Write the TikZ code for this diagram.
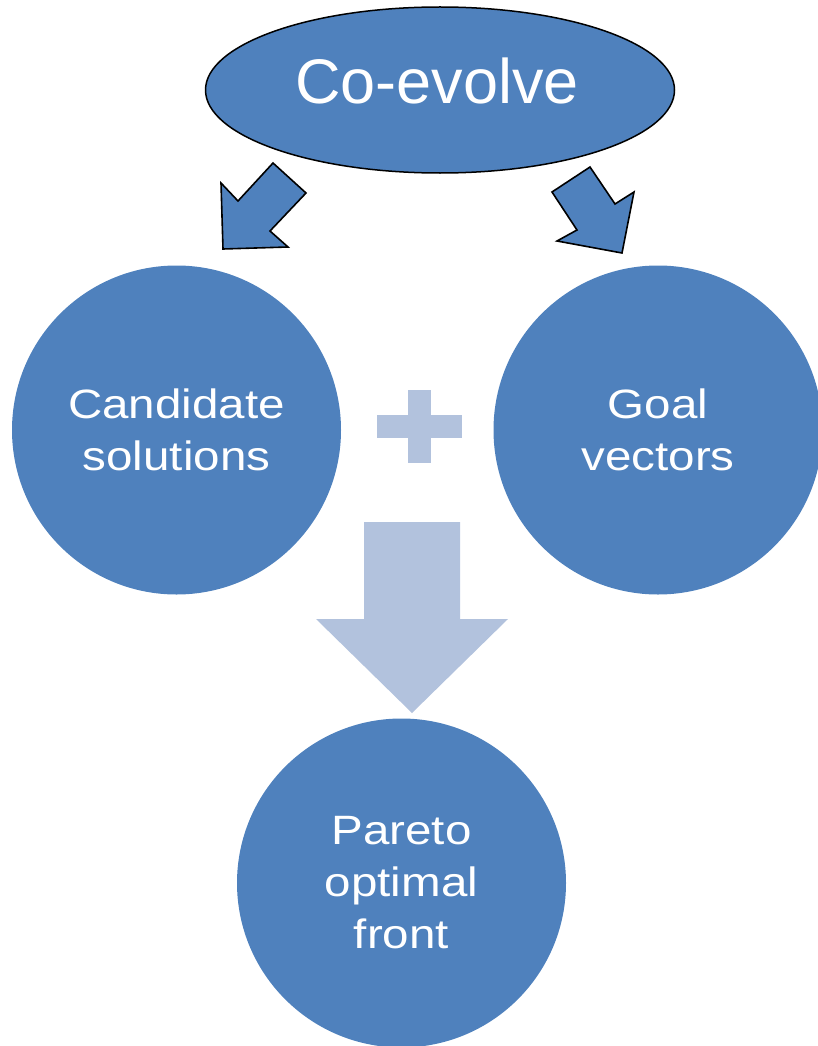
\documentclass[tikz,border=0pt]{standalone}
\usepackage{fontspec}
\usetikzlibrary{shapes.geometric}
\setmainfont{Liberation Sans}
\newfontfamily\bodyfont[FakeStretch=1.16]{Liberation Sans}
\definecolor{blockblue}{HTML}{4F81BD}
\definecolor{paleblue}{HTML}{B2C2DD}
\begin{document}
\begin{tikzpicture}[x=1pt,y=-1pt,
  bubble/.style={circle, fill=blockblue, minimum size=329pt, inner sep=0pt,
    text=white, align=center, font=\bodyfont\fontsize{41}{52}\selectfont},
  blockarrow/.style={fill=blockblue, draw=black, line width=1.6pt, line join=miter},
  palefill/.style={fill=paleblue}]
\useasboundingbox (0,0) rectangle (817,1046);

% top ellipse with its caption
\node[ellipse, fill=blockblue, draw=black, line width=1.5pt,
  minimum width=469pt, minimum height=166pt, inner sep=0pt] (coevolve) at (440,90) {};
\node[anchor=base, text=white, font=\fontsize{63}{70}\selectfont, inner sep=0pt]
  (coevolvetext) at (437,104) {Co-evolve};

% two block arrows leaving the ellipse
\draw[blockarrow] (223,249) -- (221,183) -- (238,201) -- (273,163) -- (306,193)
  -- (270,231) -- (288,247) -- cycle;
\draw[blockarrow] (552,192) -- (590,167) -- (615,204) -- (634,192) -- (622,253)
  -- (557,241) -- (577,230) -- cycle;

% circles
\node[bubble] (cand) at (176.5,430) {Candidate\\solutions};
\node[bubble] (goal) at (658,430) {Goal\\vectors};
\node[bubble] (pareto) at (401.5,883) {Pareto\\optimal\\front};

% plus sign
\fill[palefill] (408,390) rectangle (431,463);
\fill[palefill] (377,415) rectangle (462,438);

% big down arrow
\fill[palefill] (364,522) -- (460,522) -- (460,619) -- (508,619) -- (412,713)
  -- (316,619) -- (364,619) -- cycle;
\end{tikzpicture}
\end{document}
